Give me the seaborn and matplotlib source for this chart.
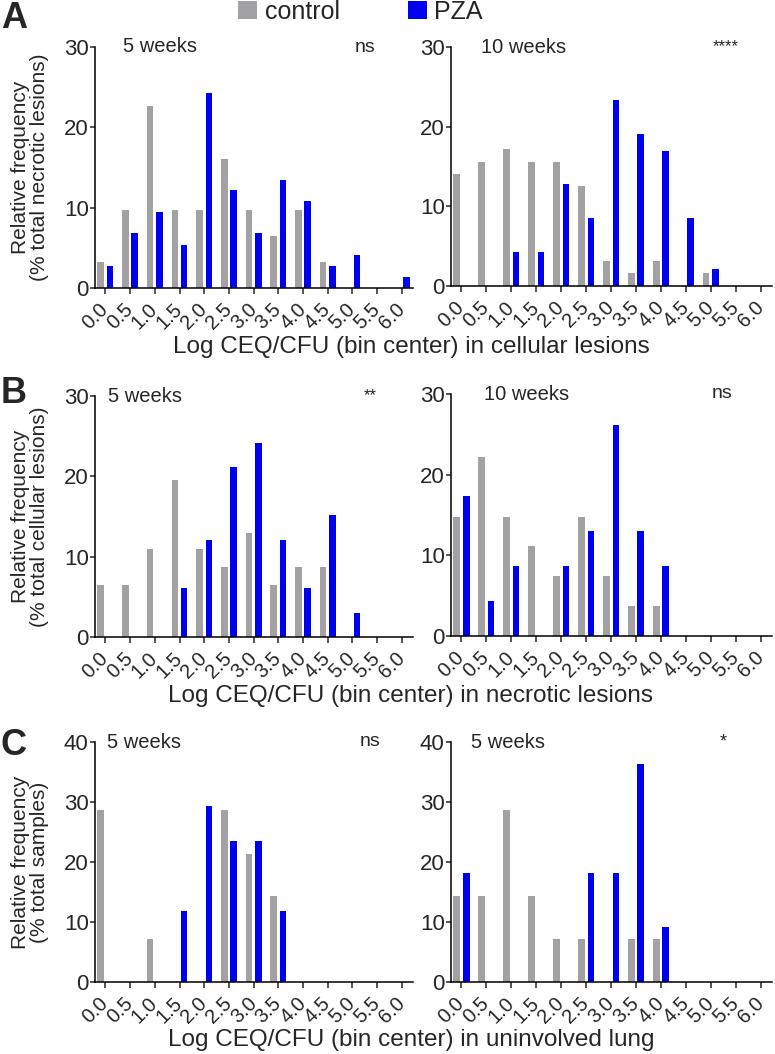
import numpy as np
import pandas as pd
import matplotlib
matplotlib.use('Agg')
import matplotlib.pyplot as plt
from matplotlib.patches import Patch
import seaborn as sns

# bin centers (Log CEQ/CFU)
bins = ['0.0', '0.5', '1.0', '1.5', '2.0', '2.5', '3.0', '3.5', '4.0', '4.5', '5.0', '5.5', '6.0']
groups = ['control', 'PZA']
colors = {'control': '#a2a2a4', 'PZA': '#0000f0'}

# panel A: % total necrotic lesions, cellular lesions
a5_control = [3.2, 9.7, 22.6, 9.7, 9.7, 16.1, 9.7, 6.5, 9.7, 3.2, 0, 0, 0]
a5_pza = [2.7, 6.8, 9.5, 5.4, 24.3, 12.2, 6.8, 13.5, 10.8, 2.7, 4.1, 0, 1.4]
a10_control = [14.1, 15.6, 17.2, 15.6, 15.6, 12.5, 3.1, 1.6, 3.1, 0, 1.6, 0, 0]
a10_pza = [0, 0, 4.3, 4.3, 12.8, 8.5, 23.4, 19.1, 17.0, 8.5, 2.1, 0, 0]

# panel B: % total cellular lesions, necrotic lesions
b5_control = [6.5, 6.5, 10.9, 19.6, 10.9, 8.7, 13.0, 6.5, 8.7, 8.7, 0, 0, 0]
b5_pza = [0, 0, 0, 6.1, 12.1, 21.2, 24.2, 12.1, 6.1, 15.2, 3.0, 0, 0]
b10_control = [14.8, 22.2, 14.8, 11.1, 7.4, 14.8, 7.4, 3.7, 3.7, 0, 0, 0, 0]
b10_pza = [17.4, 4.3, 8.7, 0, 8.7, 13.0, 26.1, 13.0, 8.7, 0, 0, 0, 0]

# panel C: % total samples, uninvolved lung
c5_control = [28.6, 0, 7.1, 0, 0, 28.6, 21.4, 14.3, 0, 0, 0, 0, 0]
c5_pza = [0, 0, 0, 11.8, 29.4, 23.5, 23.5, 11.8, 0, 0, 0, 0, 0]
c5b_control = [14.3, 14.3, 28.6, 14.3, 7.1, 7.1, 0, 7.1, 7.1, 0, 0, 0, 0]
c5b_pza = [18.2, 0, 0, 0, 0, 18.2, 18.2, 36.4, 9.1, 0, 0, 0, 0]

sns.set_style('ticks')
plt.rcParams['font.family'] = ['Liberation Sans', 'DejaVu Sans']
plt.rcParams['axes.linewidth'] = 1.1
plt.rcParams['xtick.major.width'] = 1.1
plt.rcParams['ytick.major.width'] = 1.1
plt.rcParams['xtick.major.size'] = 4
plt.rcParams['ytick.major.size'] = 3.5
plt.rcParams['axes.edgecolor'] = 'black'

W, H = 775, 1054
fig = plt.figure(figsize=(W / 100, H / 100), dpi=100)


def add_ax(x0, x1, y_top, y_bot):
    return fig.add_axes([x0 / W, 1 - y_bot / H, (x1 - x0) / W, (y_bot - y_top) / H])


def panel(ax, ctrl, pza, ymax, week, sig, wx, sx, sig_size=14):
    df = pd.DataFrame({
        'bin': bins * 2,
        'freq': ctrl + pza,
        'group': ['control'] * len(bins) + ['PZA'] * len(bins),
    })
    sns.barplot(data=df, x='bin', y='freq', hue='group', order=bins, hue_order=groups,
                palette=colors, saturation=1, width=0.76, gap=0.3, edgecolor='none',
                legend=False, ax=ax)
    ax.set_xlim(-0.42, 12.45)
    ax.set_ylim(0, ymax)
    ax.set_yticks(np.arange(0, ymax + 1, 10))
    ax.tick_params(axis='y', labelsize=16, pad=1)
    ax.tick_params(axis='x', labelsize=14.5, pad=9)
    for lab in ax.get_xticklabels():
        lab.set_rotation(45)
        lab.set_ha('right')
        lab.set_va('center')
        lab.set_rotation_mode('anchor')
    ax.set_xlabel('')
    ax.set_ylabel('')
    sns.despine(ax=ax)
    ax.text(wx, 1.0, week, transform=ax.transAxes, fontsize=14.5, ha='left', va='center')
    ax.text(sx, 1.0, sig, transform=ax.transAxes, fontsize=sig_size, ha='center', va='center')


# rows
axA1 = add_ax(95, 413, 47, 288)
axA2 = add_ax(451, 772, 47, 286)
axB1 = add_ax(95, 413, 396, 637)
axB2 = add_ax(451, 772, 394, 636)
axC1 = add_ax(95, 413, 742, 982)
axC2 = add_ax(451, 772, 742, 982)

panel(axA1, a5_control, a5_pza, 30, '5 weeks', 'ns', (123 - 95) / 318, (365 - 95) / 318)
panel(axA2, a10_control, a10_pza, 30, '10 weeks', '****', (481 - 451) / 321, (726 - 451) / 321, 12)
panel(axB1, b5_control, b5_pza, 30, '5 weeks', '**', (108 - 95) / 318, (370 - 95) / 318, 12)
panel(axB2, b10_control, b10_pza, 30, '10 weeks', 'ns', (484 - 451) / 321, (722 - 451) / 321)
panel(axC1, c5_control, c5_pza, 40, '5 weeks', 'ns', (107 - 95) / 318, (370 - 95) / 318)
panel(axC2, c5b_control, c5b_pza, 40, '5 weeks', '*', (471 - 451) / 321, (723 - 451) / 321, 13)

# y labels
ylabels = ['Relative frequency\n(% total necrotic lesions)',
           'Relative frequency\n(% total cellular lesions)',
           'Relative frequency\n(% total samples)']
for yl, (t, b) in zip(ylabels, [(47, 288), (396, 637), (742, 982)]):
    fig.text(30 / W, 1 - (t + b) / 2 / H, yl, rotation=90, ha='center', va='center',
             fontsize=15, linespacing=1.05, multialignment='center')

# x labels
xlabels = ['Log CEQ/CFU (bin center) in cellular lesions',
           'Log CEQ/CFU (bin center) in necrotic lesions',
           'Log CEQ/CFU (bin center) in uninvolved lung']
for xl, y in zip(xlabels, [347, 696, 1040]):
    fig.text(411 / W, 1 - y / H, xl, ha='center', va='center', fontsize=17.5)

# panel letters
for letter, y in zip('ABC', [28, 403, 755]):
    fig.text(1 / W, 1 - y / H, letter, ha='left', va='baseline', fontsize=26, fontweight='bold')

# legend
handles = [Patch(facecolor=colors[g], edgecolor='none', label=g) for g in groups]
fig.legend(handles=handles, loc='center left', bbox_to_anchor=(238 / W, 1 - 12 / H),
           ncol=2, frameon=False, fontsize=18, handlelength=0.76, handleheight=0.72,
           handletextpad=0.32, columnspacing=2.7, borderpad=0, borderaxespad=0)

fig.savefig('out.png', dpi=100)
